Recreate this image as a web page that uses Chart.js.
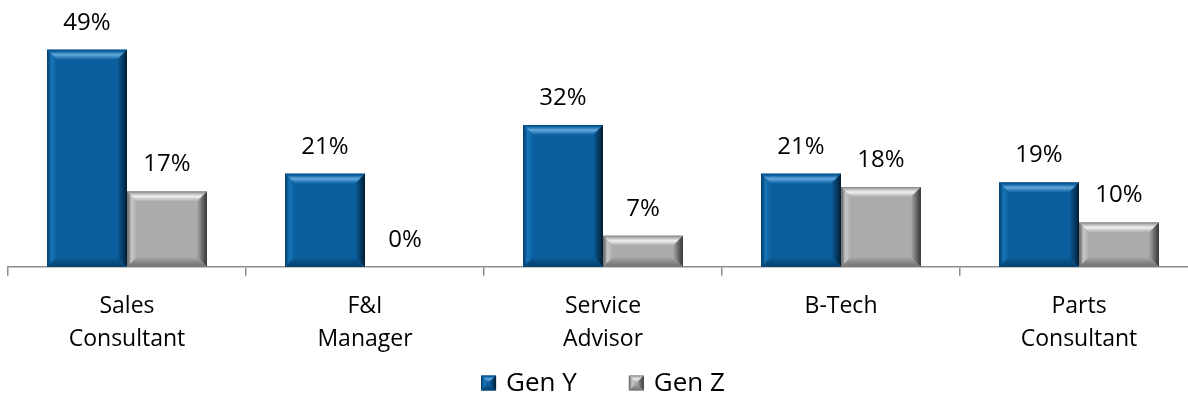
<!DOCTYPE html>
<html>
<head>
<meta charset="utf-8">
<script src="https://cdn.jsdelivr.net/npm/chart.js@4"></script>
<style>
  html, body { margin: 0; padding: 0; background: #fff; overflow: hidden; }
  #wrap { width: 1206px; height: 410px; }
</style>
</head>
<body>
<div id="wrap"><canvas id="bars"></canvas></div>
<script>
// chart data
var categories = [['Sales', 'Consultant'], ['F&I', 'Manager'], ['Service', 'Advisor'], 'B-Tech', ['Parts', 'Consultant']];
var genY = [49, 21, 32, 21, 19];
var genZ = [17, 0, 7, 18, 10];
var seriesNames = ['Gen Y', 'Gen Z'];

// face / bevel shades per series
var shades = [
    { face: '#0B5F9E', edge: '#084C80', top: '#62A8DC', left: '#1674B6', right: '#021C31', bottom: '#06406B' },
    { face: '#ABABAB', edge: '#7C7C7C', top: '#F0F0F0', left: '#C6C6C6', right: '#353535', bottom: '#6E6E6E' }
];

var FONT = '"Open Sans", sans-serif';

function bevelRect(ctx, x, y, w, h, s, b) {
    b = Math.min(b, w / 2, h / 2);
    ctx.save();
    ctx.fillStyle = s.face;
    ctx.fillRect(x, y, w, h);
    if (b > 0.5) {
        var g;
        // top
        g = ctx.createLinearGradient(0, y, 0, y + b);
        g.addColorStop(0, s.edge);
        g.addColorStop(0.15, s.face);
        g.addColorStop(0.5, s.top);
        g.addColorStop(1, s.face);
        ctx.fillStyle = g;
        ctx.beginPath();
        ctx.moveTo(x, y); ctx.lineTo(x + w, y); ctx.lineTo(x + w - b, y + b); ctx.lineTo(x + b, y + b);
        ctx.closePath(); ctx.fill();
        // bottom
        g = ctx.createLinearGradient(0, y + h - b, 0, y + h);
        g.addColorStop(0, s.face);
        g.addColorStop(1, s.bottom);
        ctx.fillStyle = g;
        ctx.beginPath();
        ctx.moveTo(x, y + h); ctx.lineTo(x + w, y + h); ctx.lineTo(x + w - b, y + h - b); ctx.lineTo(x + b, y + h - b);
        ctx.closePath(); ctx.fill();
        // left
        g = ctx.createLinearGradient(x, 0, x + b, 0);
        g.addColorStop(0, s.bottom);
        g.addColorStop(0.15, s.edge);
        g.addColorStop(0.45, s.left);
        g.addColorStop(1, s.face);
        ctx.fillStyle = g;
        ctx.beginPath();
        ctx.moveTo(x, y); ctx.lineTo(x + b, y + b); ctx.lineTo(x + b, y + h - b); ctx.lineTo(x, y + h);
        ctx.closePath(); ctx.fill();
        // right
        g = ctx.createLinearGradient(x + w - b, 0, x + w, 0);
        g.addColorStop(0, s.face);
        g.addColorStop(0.5, s.bottom);
        g.addColorStop(1, s.right);
        ctx.fillStyle = g;
        ctx.beginPath();
        ctx.moveTo(x + w, y); ctx.lineTo(x + w - b, y + b); ctx.lineTo(x + w - b, y + h - b); ctx.lineTo(x + w, y + h);
        ctx.closePath(); ctx.fill();
    }
    ctx.restore();
}

var bevelBars = {
    id: 'bevelBars',
    afterDatasetsDraw: function(chart) {
        var ctx = chart.ctx;
        chart.data.datasets.forEach(function(ds, i) {
            var meta = chart.getDatasetMeta(i);
            meta.data.forEach(function(bar, j) {
                var p = bar.getProps(['x', 'y', 'base', 'width'], true);
                var h = p.base - p.y;
                if (h > 0) bevelRect(ctx, p.x - p.width / 2, p.y, p.width, h, shades[i], 10);
                ctx.save();
                ctx.fillStyle = '#000';
                ctx.font = '24px ' + FONT;
                ctx.textAlign = 'center';
                ctx.textBaseline = 'middle';
                ctx.fillText(ds.data[j] + '%', p.x, p.y - 27);
                ctx.restore();
            });
        });
    }
};

var bevelLegend = {
    id: 'bevelLegend',
    afterDraw: function(chart) {
        var ctx = chart.ctx;
        var area = chart.chartArea;
        var y = 383, box = 15, gap = 10, itemGap = 52;
        ctx.save();
        ctx.font = '26px ' + FONT;
        var widths = seriesNames.map(function(n) { return box + gap + ctx.measureText(n).width; });
        var total = widths.reduce(function(a, b) { return a + b; }, 0) + itemGap * (widths.length - 1);
        var x = (area.left + area.right) / 2 - total / 2;
        seriesNames.forEach(function(n, i) {
            bevelRect(ctx, x, y - box / 2, box, box, shades[i], 7);
            ctx.fillStyle = '#000';
            ctx.textAlign = 'left';
            ctx.textBaseline = 'middle';
            ctx.fillText(n, x + box + gap, y + 1);
            x += widths[i] + itemGap;
        });
        ctx.restore();
    }
};

new Chart(document.getElementById('bars'), {
    type: 'bar',
    data: {
        labels: categories,
        datasets: [
            { label: seriesNames[0], data: genY, backgroundColor: shades[0].face, categoryPercentage: 0.672, barPercentage: 1 },
            { label: seriesNames[1], data: genZ, backgroundColor: shades[1].face, categoryPercentage: 0.672, barPercentage: 1 }
        ]
    },
    options: {
        responsive: true,
        maintainAspectRatio: false,
        animation: false,
        layout: { padding: { left: 8, right: 8, top: 1, bottom: 40 } },
        plugins: {
            legend: { display: false },
            tooltip: { enabled: false }
        },
        scales: {
            x: {
                border: { color: '#8C8C8C', width: 1.5 },
                grid: { drawOnChartArea: false, color: '#8C8C8C', tickLength: 9, lineWidth: 1.5 },
                ticks: { color: '#000', padding: 14, font: { family: FONT, size: 23, lineHeight: 1.44 } }
            },
            y: {
                display: false,
                min: 0,
                max: 60
            }
        }
    },
    plugins: [bevelBars, bevelLegend]
});
</script>
</body>
</html>
